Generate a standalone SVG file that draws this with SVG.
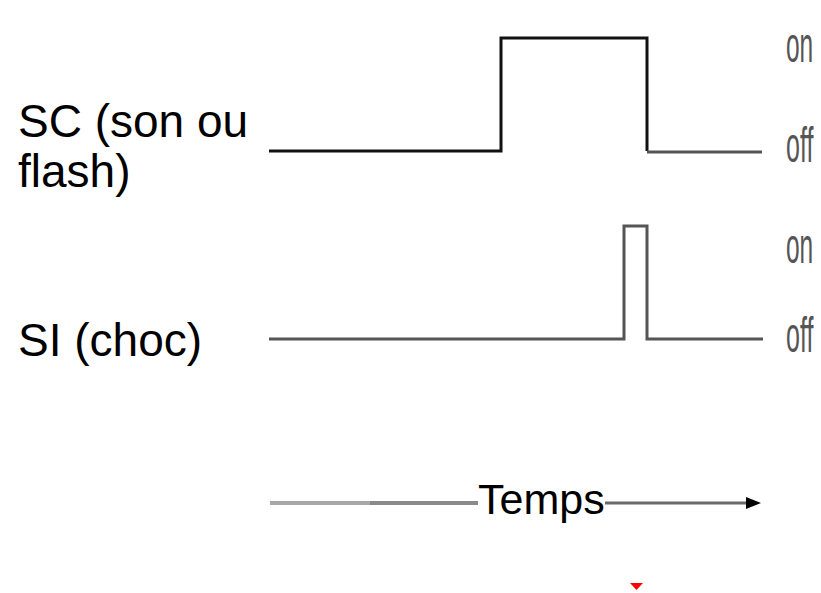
<svg xmlns="http://www.w3.org/2000/svg" width="821" height="593" viewBox="0 0 821 593">
  <style>
    .lbl { font-family: "Liberation Sans", Arial, sans-serif; font-size: 46px; fill: #000; }
    .st { font-family: "Liberation Sans", Arial, sans-serif; font-size: 50px; fill: #555; }
    .sig { fill: none; stroke-width: 3; stroke-linejoin: miter; stroke-linecap: butt; }
  </style>
  <rect x="0" y="0" width="821" height="593" fill="#ffffff"/>
  <rect x="478" y="437" width="127" height="148" fill="#ffffff"/>

  <g id="label-sc">
    <text class="lbl" x="18" y="137">SC (son ou</text>
    <text class="lbl" x="18" y="187">flash)</text>
  </g>
  <g id="label-si">
    <text class="lbl" x="18" y="356">SI (choc)</text>
  </g>

  <g id="states">
    <text class="st" transform="translate(786,62) scale(0.49,1)">on</text>
    <text class="st" transform="translate(786,162) scale(0.5,1)">off</text>
    <text class="st" transform="translate(786,263) scale(0.49,1)">on</text>
    <text class="st" transform="translate(786,352) scale(0.5,1)">off</text>
  </g>

  <g id="connectors">
    <polyline id="signal-sc" class="sig" stroke="#111" points="269,151 501,151 501,38 647,38 647,151"/>
    <line x1="647" y1="152" x2="762" y2="152" stroke="#555" stroke-width="3"/>
    <polyline id="signal-si" class="sig" stroke="#555" points="269,339 624,339 624,226 647,226 647,339 763,339"/>
    <line x1="270" y1="503" x2="370" y2="503" stroke="#a8a8a8" stroke-width="4"/>
    <line x1="370" y1="503" x2="478" y2="503" stroke="#8a8a8a" stroke-width="4"/>
    <line x1="605" y1="503" x2="750" y2="503" stroke="#6a6a6a" stroke-width="3"/>
    <polygon points="746,497 761,503 746,509" fill="#000"/>
  </g>

  <g id="axis-label">
    <text x="478" y="514" font-family="Liberation Sans, Arial, sans-serif" font-size="43" fill="#000">Temps</text>
  </g>

  <polygon id="marker-red" points="630,583 643,583 636.5,590" fill="#ff0000"/>
</svg>
